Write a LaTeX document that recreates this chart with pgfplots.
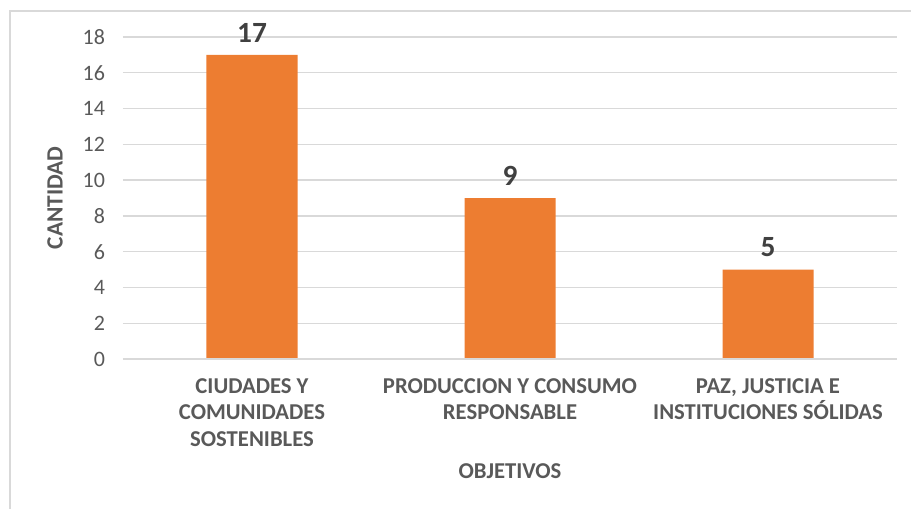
\documentclass[border=0pt]{standalone}
\usepackage{pgfplots}
\pgfplotsset{compat=1.18}
\usepackage{fontspec}
\setmainfont{Carlito}
\definecolor{barorange}{HTML}{ED7D31}
\definecolor{txtgray}{HTML}{595959}
\definecolor{lblgray}{HTML}{404040}
\definecolor{gridgray}{HTML}{D9D9D9}
\begin{document}
\begin{tikzpicture}[x=0.75pt,y=0.75pt]
\useasboundingbox (-123,-149) rectangle (788,359);
\draw[gridgray, line width=1.5pt] (-113,-160) -- (-113,348) -- (800,348);
\begin{axis}[
  at={(0,0)}, anchor=south west,
  scale only axis,
  width=580.5pt, height=241.5pt,
  ymin=0, ymax=18, ytick={0,2,...,18},
  xmin=-0.5, xmax=2.5,
  xtick={0,1,2},
  xticklabels={{CIUDADES Y\\COMUNIDADES\\SOSTENIBLES},{PRODUCCION Y CONSUMO\\RESPONSABLE},{PAZ, JUSTICIA E\\INSTITUCIONES SÓLIDAS}},
  xticklabel style={align=center, font=\fontsize{17pt}{20pt}\selectfont\bfseries, text=txtgray, yshift=-11pt},
  yticklabel style={font=\fontsize{16.5pt}{18pt}\selectfont, text=txtgray, xshift=-10pt},
  /pgf/number format/assume math mode=true,
  axis line style={draw=none},
  major tick length=0pt,
  ymajorgrids, grid style={gridgray, line width=1pt},
  xlabel={OBJETIVOS}, ylabel={CANTIDAD},
  xlabel style={font=\fontsize{17pt}{20pt}\selectfont\bfseries, text=txtgray, yshift=-6pt},
  ylabel style={font=\fontsize{17.5pt}{20pt}\selectfont\bfseries, text=txtgray, yshift=8pt},
  ybar, bar width=68.25pt,
  nodes near coords,
  nodes near coords style={font=\fontsize{22pt}{24pt}\selectfont\bfseries, text=lblgray, yshift=6pt},
  clip=false,
]
\addplot[fill=barorange, draw=none] coordinates {(0,17) (1,9) (2,5)};
\draw[gridgray, line width=1.5pt] (axis cs:-0.5,0) -- (axis cs:2.5,0);
\end{axis}
\end{tikzpicture}
\end{document}
